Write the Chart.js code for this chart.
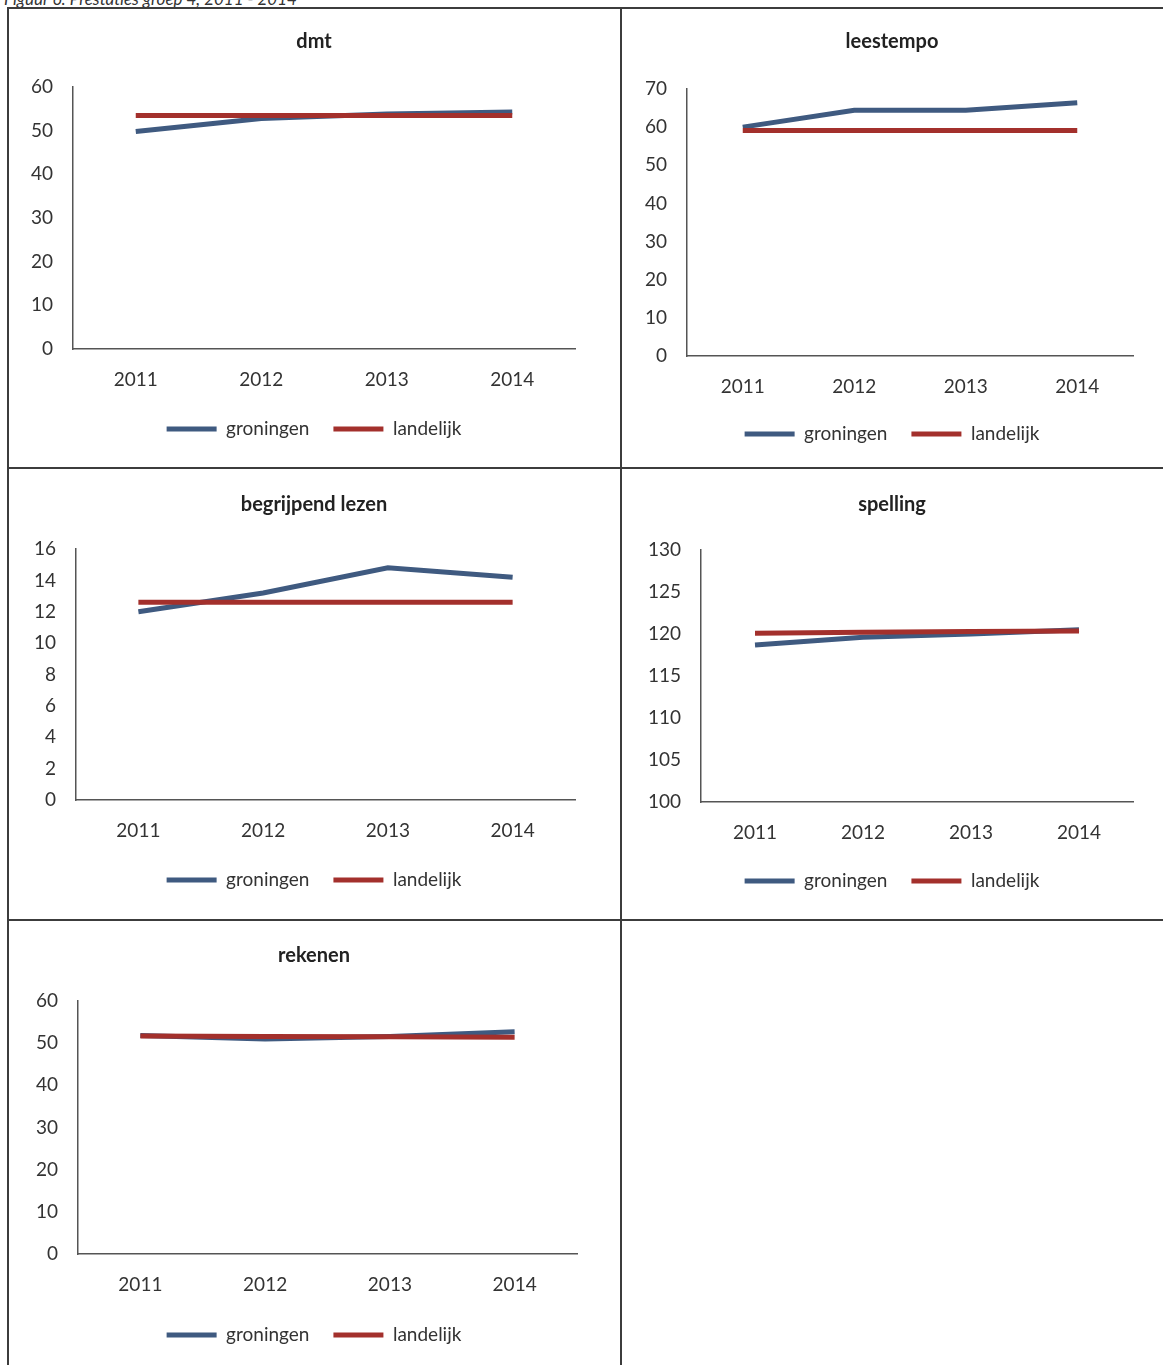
<!DOCTYPE html>
<html>
<head>
<meta charset="utf-8">
<script src="https://cdn.jsdelivr.net/npm/chart.js@4.4.0/dist/chart.umd.min.js"></script>
<style>
  body { margin: 0; background: #fff; width: 1163px; height: 1365px; overflow: hidden; position: relative; font-family: Lato, sans-serif; }
  .bijschrift { position: absolute; left: 4px; top: -12px; font-style: italic; font-size: 17px; color: #333; }
  .lijn { position: absolute; background: #3c3c3c; z-index: 2; }
  canvas { position: absolute; }
</style>
</head>
<body>
<div class="bijschrift">Figuur 6: Prestaties groep 4, 2011 - 2014</div>

<canvas id="dmt" width="614" height="461" style="left:7px;top:7px"></canvas>
<canvas id="leestempo" width="542" height="461" style="left:621px;top:7px"></canvas>
<canvas id="begrijpend" width="614" height="451" style="left:7px;top:468px"></canvas>
<canvas id="spelling" width="542" height="451" style="left:621px;top:468px"></canvas>
<canvas id="rekenen" width="614" height="446" style="left:7px;top:919px"></canvas>

<!-- tabelranden -->
<div class="lijn" style="left:7px;top:7px;width:1156px;height:2px"></div>
<div class="lijn" style="left:7px;top:7px;width:2px;height:1358px"></div>
<div class="lijn" style="left:620px;top:7px;width:2px;height:1358px"></div>
<div class="lijn" style="left:7px;top:467px;width:1156px;height:2px"></div>
<div class="lijn" style="left:7px;top:919px;width:1156px;height:2px"></div>

<script>
// Jaren op de x-as
const jaren = ['2011', '2012', '2013', '2014'];

const dmtGroningen = [49.8, 52.8, 53.8, 54.3];
const dmtLandelijk = [53.5, 53.5, 53.5, 53.5];
const leestempoGroningen = [60.0, 64.4, 64.4, 66.4];
const leestempoLandelijk = [59.1, 59.1, 59.1, 59.1];
const begrijpendGroningen = [12.0, 13.2, 14.8, 14.2];
const begrijpendLandelijk = [12.6, 12.6, 12.6, 12.6];
const spellingGroningen = [118.7, 119.6, 120.0, 120.5];
const spellingLandelijk = [120.1, 120.2, 120.3, 120.35];
const rekenenGroningen = [51.8, 51.0, 51.6, 52.7];
const rekenenLandelijk = [51.7, 51.6, 51.5, 51.4];

const blauw = '#3f5a80';
const rood = '#a3302c';
const tekstKleur = '#333';

// Maakt één lijngrafiek; g bevat de plaats van het plotgebied binnen het canvas
function maakGrafiek(id, titel, groningen, landelijk, yMin, yMax, stap, g) {
    const canvas = document.getElementById(id);
    const w = canvas.width, h = canvas.height;
    const legPad = 24;
    const padOnder = h - g.legenda - 19.5;
    const legTop = h - padOnder - (19 + legPad + 10);

    new Chart(canvas, {
        type: 'line',
        data: {
            labels: jaren,
            datasets: [
                { label: 'groningen', data: groningen, borderColor: blauw, backgroundColor: blauw,
                  borderWidth: 5, pointRadius: 0, tension: 0, order: 1 },
                { label: 'landelijk', data: landelijk, borderColor: rood, backgroundColor: rood,
                  borderWidth: 5, pointRadius: 0, tension: 0, order: 0 }
            ]
        },
        options: {
            responsive: false,
            animation: false,
            layout: { padding: { left: 0, top: 0, right: 0, bottom: padOnder } },
            plugins: {
                title: {
                    display: true,
                    text: titel,
                    color: '#222',
                    font: { family: 'Lato', size: 20, weight: 'bold' },
                    padding: { top: g.titel - 12, bottom: g.boven - g.titel - 12 }
                },
                legend: {
                    position: 'bottom',
                    labels: {
                        color: tekstKleur,
                        font: { family: 'Lato', size: 19 },
                        boxWidth: 50,
                        boxHeight: 5,
                        padding: legPad,
                        sort: (a, b) => a.datasetIndex - b.datasetIndex,
                        generateLabels: chart => Chart.defaults.plugins.legend.labels.generateLabels(chart)
                            .map(l => Object.assign(l, { lineWidth: 0, fillStyle: l.strokeStyle }))
                    }
                },
                tooltip: { enabled: false }
            },
            scales: {
                x: {
                    offset: true,
                    grid: { display: false, drawTicks: false },
                    border: { display: true, color: '#555', width: 1.5 },
                    ticks: { color: tekstKleur, font: { family: 'Lato', size: 19 }, padding: 19 },
                    afterFit: s => { s.height = legTop - g.onder; }
                },
                y: {
                    min: yMin,
                    max: yMax,
                    grid: { display: false, drawTicks: false },
                    border: { display: true, color: '#555', width: 1.5 },
                    ticks: { stepSize: stap, color: tekstKleur, font: { family: 'Lato', size: 19 }, padding: 20 },
                    afterFit: s => { s.width = g.links; }
                },
                // lege as rechts, alleen als ruimte zodat titel en legenda over de hele cel centreren
                rechts: {
                    position: 'right',
                    grid: { display: false, drawTicks: false },
                    border: { display: false },
                    ticks: { display: false },
                    afterFit: s => { s.width = w - g.rechts; }
                }
            }
        }
    });
}

maakGrafiek('dmt', 'dmt', dmtGroningen, dmtLandelijk, 0, 60, 10,
    { links: 66, boven: 80, rechts: 568, onder: 342, titel: 35, legenda: 422 });
maakGrafiek('leestempo', 'leestempo', leestempoGroningen, leestempoLandelijk, 0, 70, 10,
    { links: 66, boven: 82, rechts: 512, onder: 349, titel: 35, legenda: 427 });
maakGrafiek('begrijpend', 'begrijpend lezen', begrijpendGroningen, begrijpendLandelijk, 0, 16, 2,
    { links: 69, boven: 81, rechts: 568, onder: 332, titel: 37, legenda: 412 });
maakGrafiek('spelling', 'spelling', spellingGroningen, spellingLandelijk, 100, 130, 5,
    { links: 80, boven: 82, rechts: 512, onder: 334, titel: 37, legenda: 413 });
maakGrafiek('rekenen', 'rekenen', rekenenGroningen, rekenenLandelijk, 0, 60, 10,
    { links: 71, boven: 82, rechts: 570, onder: 335, titel: 37, legenda: 416 });
</script>
</body>
</html>
